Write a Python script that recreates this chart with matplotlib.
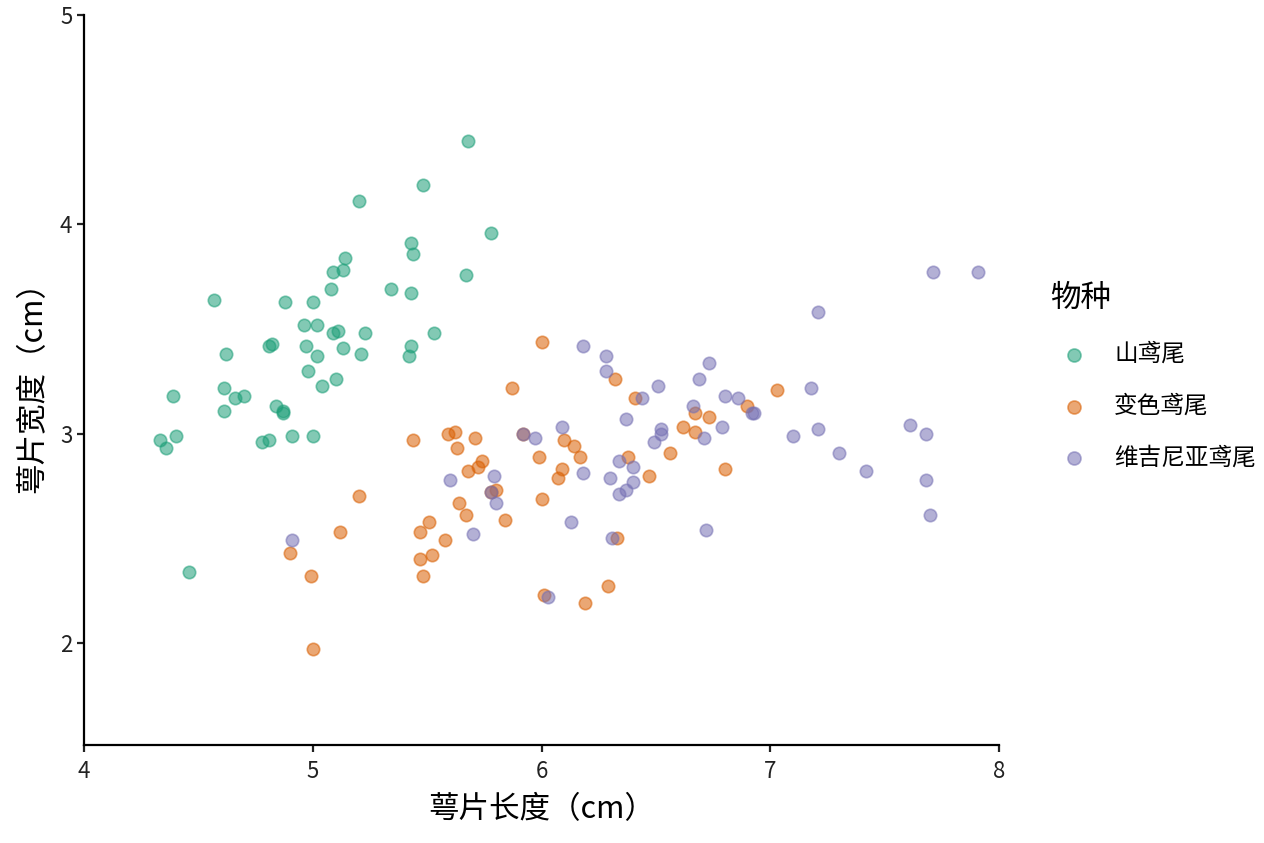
import matplotlib
matplotlib.use("Agg")
from matplotlib import pyplot as plt

plt.rcParams['font.family'] = ['Noto Sans CJK SC', 'DejaVu Sans']

# 山鸢尾 (setosa)
setosa_x = [5.68, 5.48, 5.20, 5.78, 5.43, 5.44, 5.67, 5.14, 5.13, 5.09,
            5.08, 5.34, 5.43, 4.57, 4.88, 5.00, 4.96, 5.02, 5.09, 5.11,
            5.23, 5.53, 4.81, 4.82, 4.97, 5.13, 5.02, 5.21, 5.43, 5.42,
            4.62, 4.98, 5.10, 5.04, 4.61, 4.66, 4.70, 4.39, 4.61, 4.84,
            4.87, 4.87, 4.91, 5.00, 4.78, 4.81, 4.40, 4.33, 4.36, 4.46]
setosa_y = [4.40, 4.19, 4.11, 3.96, 3.91, 3.86, 3.76, 3.84, 3.78, 3.77,
            3.69, 3.69, 3.67, 3.64, 3.63, 3.63, 3.52, 3.52, 3.48, 3.49,
            3.48, 3.48, 3.42, 3.43, 3.42, 3.41, 3.37, 3.38, 3.42, 3.37,
            3.38, 3.30, 3.26, 3.23, 3.22, 3.17, 3.18, 3.18, 3.11, 3.13,
            3.11, 3.10, 2.99, 2.99, 2.96, 2.97, 2.99, 2.97, 2.93, 2.34]

# 变色鸢尾 (versicolor)
versicolor_x = [6.00, 6.32, 5.87, 5.44, 5.59, 5.62, 5.71, 5.63, 5.74, 5.72,
                5.68, 5.99, 6.10, 6.14, 6.17, 6.09, 6.07, 5.78, 5.80, 6.00,
                5.20, 5.64, 5.67, 5.84, 5.51, 5.47, 5.58, 5.12, 4.90, 5.52,
                5.47, 4.99, 5.48, 6.01, 6.19, 6.29, 6.33, 5.00, 6.38, 6.41,
                6.47, 6.56, 6.62, 6.67, 6.73, 6.67, 6.90, 7.03, 6.80, 5.92]
versicolor_y = [3.44, 3.26, 3.22, 2.97, 3.00, 3.01, 2.98, 2.93, 2.87, 2.84,
                2.82, 2.89, 2.97, 2.94, 2.89, 2.83, 2.79, 2.72, 2.73, 2.69,
                2.70, 2.67, 2.61, 2.59, 2.58, 2.53, 2.49, 2.53, 2.43, 2.42,
                2.40, 2.32, 2.32, 2.23, 2.19, 2.27, 2.50, 1.97, 2.89, 3.17,
                2.80, 2.91, 3.03, 3.10, 3.08, 3.01, 3.13, 3.21, 2.83, 3.00]

# 维吉尼亚鸢尾 (virginica)
virginica_x = [6.18, 6.28, 6.28, 6.37, 5.92, 5.97, 6.09, 6.34, 6.18, 6.30,
               6.34, 6.37, 5.60, 5.79, 5.78, 5.80, 5.70, 6.13, 6.31, 4.91,
               6.03, 6.44, 6.51, 6.69, 6.73, 6.66, 6.80, 6.86, 6.92, 6.93,
               6.79, 6.71, 6.52, 6.52, 6.49, 6.40, 6.40, 6.72, 7.10, 7.21,
               7.18, 7.21, 7.71, 7.91, 7.30, 7.42, 7.61, 7.68, 7.68, 7.70]
virginica_y = [3.42, 3.37, 3.30, 3.07, 3.00, 2.98, 3.03, 2.87, 2.81, 2.79,
               2.71, 2.73, 2.78, 2.80, 2.72, 2.67, 2.52, 2.58, 2.50, 2.49,
               2.22, 3.17, 3.23, 3.26, 3.34, 3.13, 3.18, 3.17, 3.10, 3.10,
               3.03, 2.98, 3.02, 3.00, 2.96, 2.84, 2.77, 2.54, 2.99, 3.02,
               3.22, 3.58, 3.77, 3.77, 2.91, 2.82, 3.04, 3.00, 2.78, 2.61]

species = ['山鸢尾', '变色鸢尾', '维吉尼亚鸢尾']
colors = ['#1B9E77', '#D95F02', '#7570B3']
xs = [setosa_x, versicolor_x, virginica_x]
ys = [setosa_y, versicolor_y, virginica_y]

fig = plt.figure(figsize=(12.64, 8.43), dpi=100)
ax = fig.add_axes([0.0665, 0.1163, 0.7239, 0.8659])

for name, c, x, y in zip(species, colors, xs, ys):
    ax.scatter(x, y, s=80, color=c, alpha=0.55, edgecolors=c,
               linewidths=1.2, label=name)

ax.set_xlim(4, 8)
ax.set_ylim(1.513, 5)
ax.set_xticks([4, 5, 6, 7, 8])
ax.set_yticks([2, 3, 4, 5])

for side in ['top', 'right']:
    ax.spines[side].set_visible(False)
for side in ['left', 'bottom']:
    ax.spines[side].set_linewidth(1.6)
ax.tick_params(width=1.6, length=5, labelsize=16, colors='#222222')
ax.tick_params(axis='x', pad=6)

ax.set_xlabel('萼片长度（cm）', fontsize=22, labelpad=8)
ax.set_ylabel('萼片宽度（cm）', fontsize=22, labelpad=8)

leg = ax.legend(title='物种', loc='center left', bbox_to_anchor=(1.033, 0.505),
                frameon=False, fontsize=17, title_fontsize=22,
                markerscale=1.05, handletextpad=0.7, labelspacing=1.22,
                alignment='left')

fig.savefig('out.png', dpi=100)
